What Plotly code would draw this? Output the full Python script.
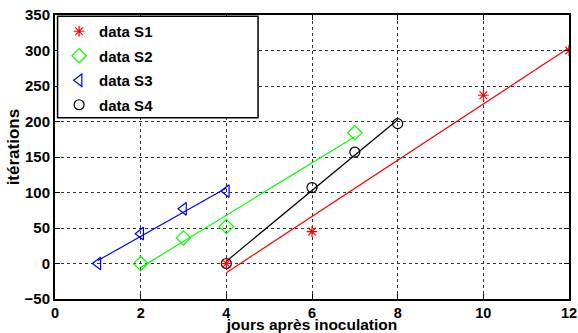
import numpy as np
import plotly.graph_objects as go

x_s1 = [4, 6, 10, 12]
y_s1 = [0, 45, 237, 300]
x_s2 = [2, 3, 4, 7]
y_s2 = [0, 36, 52, 184]
x_s3 = [1, 2, 3, 4]
y_s3 = [0, 42, 77, 102]
x_s4 = [4, 6, 7, 8]
y_s4 = [0, 107, 157, 197]

names = ["data S1", "data S2", "data S3", "data S4"]
colors = ["#ff0000", "#00ff00", "#0000ff", "#000000"]
symbols = ["asterisk-open", "diamond-open", "triangle-left-open", "circle-open"]
sizes = [9, 11, 11, 10]
series = [(x_s1, y_s1), (x_s2, y_s2), (x_s3, y_s3), (x_s4, y_s4)]

fig = go.Figure()

# fitted lines (least squares)
for (xs, ys), c in zip(series, colors):
    xs = np.array(xs, float); ys = np.array(ys, float)
    a, b = np.polyfit(xs, ys, 1)
    xe = np.array([xs.min(), xs.max()])
    fig.add_trace(go.Scatter(x=xe, y=a * xe + b, mode="lines",
                             line=dict(color=c, width=1.2), showlegend=False,
                             hoverinfo="skip"))

# markers: draw S4 first so S1's asterisk sits on top
for i in [3, 2, 1, 0]:
    xs, ys = series[i]
    fig.add_trace(go.Scatter(x=xs, y=ys, mode="markers", name="<b>" + names[i] + "</b>",
                             legendrank=i + 1, legendgroup=names[i],
                             marker=dict(symbol=symbols[i], color=colors[i], size=sizes[i],
                                         line=dict(color=colors[i], width=1.2))))

axis_common = dict(showgrid=True, gridcolor="#333333", griddash="3px,3px", gridwidth=1,
                   showline=True, linecolor="black", linewidth=2, mirror="ticks",
                   ticks="inside", ticklen=5, tickcolor="black", zeroline=False,
                   automargin=False, tickprefix="<b>", ticksuffix="</b>")

fig.update_xaxes(range=[0, 12], dtick=2, **axis_common,
                 tickfont=dict(family="Liberation Sans", size=14.5, color="black"),
                 title=dict(text="<b>jours après inoculation</b>", standoff=5,
                            font=dict(family="Liberation Sans", size=15.5, color="black")))
fig.update_yaxes(range=[-50, 350], dtick=50, **axis_common,
                 tickfont=dict(family="Liberation Sans", size=15, color="black"))

fig.add_annotation(text="<b>itérations</b>", xref="paper", yref="paper",
                   x=-0.08, y=0.537, xanchor="center", yanchor="middle", textangle=-90,
                   showarrow=False, font=dict(family="Liberation Sans", size=17, color="black"))

# legend box
fig.add_shape(type="rect", xref="paper", yref="paper", x0=0.005, x1=0.395, y0=0.638, y1=0.996,
              line=dict(color="black", width=1.5), fillcolor="white", layer="above")
fig.update_layout(
    width=578, height=333,
    margin=dict(l=55, r=9, t=15, b=34),
    plot_bgcolor="white", paper_bgcolor="white",
    legend=dict(x=0.008, y=1.0, xanchor="left", yanchor="top", bgcolor="rgba(0,0,0,0)",
                traceorder="grouped", tracegroupgap=2,
                font=dict(family="Liberation Sans", size=15, color="black")),
)
fig.write_html("out.html", config={"displayModeBar": False},
               post_script="document.body.style.margin='0';document.body.style.overflow='hidden';")
